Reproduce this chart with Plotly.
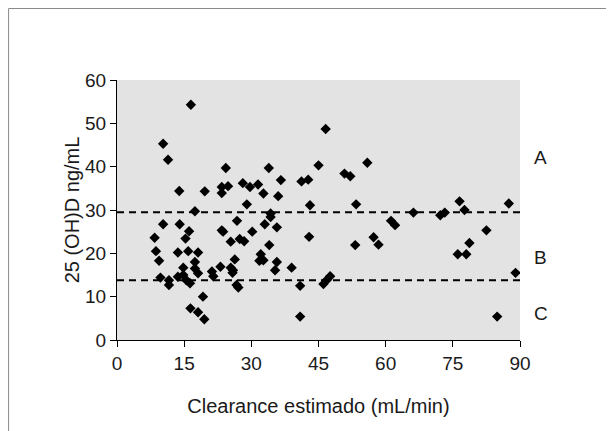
import plotly.graph_objects as go

# estimated clearance (mL/min) and 25(OH)D (ng/mL)
clearance = [
    16.5, 10.3, 11.4, 24.3, 13.9, 19.6, 23.4, 24.8, 23.4, 28.1,
    29.7, 31.5, 36.6, 32.7, 36.0, 29.0, 17.4, 34.3, 34.3, 26.8,
    33.0, 35.7, 23.4, 23.7, 30.2, 25.4, 27.4, 28.4, 34.0, 32.1,
    32.3, 31.8, 32.7, 35.7, 26.3, 23.1, 25.4, 25.9, 25.8, 35.3,
    21.2, 21.5, 26.7, 27.1, 10.3, 14.0, 16.1, 8.4, 15.3, 8.7,
    13.6, 15.9, 18.1, 9.4, 17.4, 14.8, 17.4, 18.1, 9.7, 11.6,
    11.6, 13.6, 14.8, 15.5, 16.3, 19.2, 16.4, 18.1, 19.5, 46.6,
    55.9, 45.0, 33.9, 50.8, 52.1, 41.2, 42.7, 43.1, 53.4, 42.9,
    53.2, 39.0, 40.9, 46.1, 46.8, 47.6, 40.9, 66.2, 72.2, 73.2,
    76.5, 77.6, 61.2, 62.1, 57.3, 58.4, 76.1, 78.0, 78.7, 82.5,
    87.5, 89.0, 84.9,
]
vitd = [
    54.3, 45.3, 41.6, 39.7, 34.4, 34.3, 35.3, 35.5, 33.9, 36.2,
    35.3, 35.9, 36.9, 33.8, 33.2, 31.3, 29.7, 29.2, 28.4, 27.5,
    26.7, 26.0, 25.3, 25.0, 25.0, 22.7, 23.3, 22.8, 21.9, 19.8,
    18.6, 18.3, 18.4, 18.0, 18.6, 16.9, 16.7, 16.1, 15.5, 16.1,
    15.8, 14.7, 12.7, 12.1, 26.7, 26.7, 25.1, 23.6, 23.4, 20.5,
    20.2, 20.5, 20.2, 18.3, 18.0, 16.7, 16.5, 15.4, 14.4, 13.8,
    12.7, 14.6, 15.0, 13.8, 13.1, 10.0, 7.3, 6.4, 4.8, 48.7,
    40.9, 40.3, 39.7, 38.4, 37.8, 36.6, 37.0, 31.1, 31.3, 23.8,
    21.9, 16.7, 12.5, 12.9, 13.8, 14.7, 5.4, 29.4, 28.8, 29.4,
    32.0, 30.0, 27.5, 26.5, 23.7, 22.0, 19.8, 19.8, 22.4, 25.3,
    31.5, 15.5, 5.4,
]

cutoffs = [29.5, 13.8]
zone_labels = ["A", "B", "C"]
zone_y = [42.2, 19.1, 6.2]
x_ticks = [0, 15, 30, 45, 60, 75, 90]
y_ticks = [0, 10, 20, 30, 40, 50, 60]

fig = go.Figure()

fig.add_trace(go.Scatter(
    x=clearance, y=vitd, mode="markers",
    marker=dict(symbol="diamond", size=8, color="black"),
    showlegend=False,
))

for c in cutoffs:
    fig.add_shape(type="line", xref="x", yref="y", x0=0, x1=90, y0=c, y1=c,
                  line=dict(color="black", width=2, dash="7px,5px"))

for lab, yy in zip(zone_labels, zone_y):
    fig.add_annotation(x=1.03, xref="paper", y=yy, yref="y", text=lab,
                       showarrow=False, xanchor="left",
                       font=dict(size=19, color="#1a1a1a"))

# thin grey frame at top and left of the figure
fig.add_shape(type="line", xref="paper", yref="paper", x0=-0.269, x1=1.3,
              y0=1.275, y1=1.275, line=dict(color="#8a8a8a", width=1))
fig.add_shape(type="line", xref="paper", yref="paper", x0=-0.269, x1=-0.269,
              y0=1.275, y1=-0.4, line=dict(color="#8a8a8a", width=1))

fig.update_xaxes(
    range=[0, 90], tickvals=x_ticks, showgrid=False, zeroline=False,
    showline=True, linecolor="black", linewidth=1,
    ticks="outside", ticklen=6, tickcolor="black", tickfont=dict(size=19),
    title=dict(text="Clearance estimado (mL/min)", standoff=26),
)
fig.update_yaxes(
    range=[0, 60], tickvals=y_ticks, showgrid=False, zeroline=False,
    showline=True, linecolor="black", linewidth=1,
    ticks="outside", ticklen=6, tickcolor="black", tickfont=dict(size=19),
    title=dict(text="25 (OH)D ng/mL", standoff=0),
)

fig.update_layout(
    width=614, height=431,
    margin=dict(l=109, r=102, t=72, b=99),
    plot_bgcolor="#e3e3e3",
    paper_bgcolor="white",
    font=dict(family="Liberation Sans", size=17, color="#1a1a1a"),
)

fig.write_html("out.html")
